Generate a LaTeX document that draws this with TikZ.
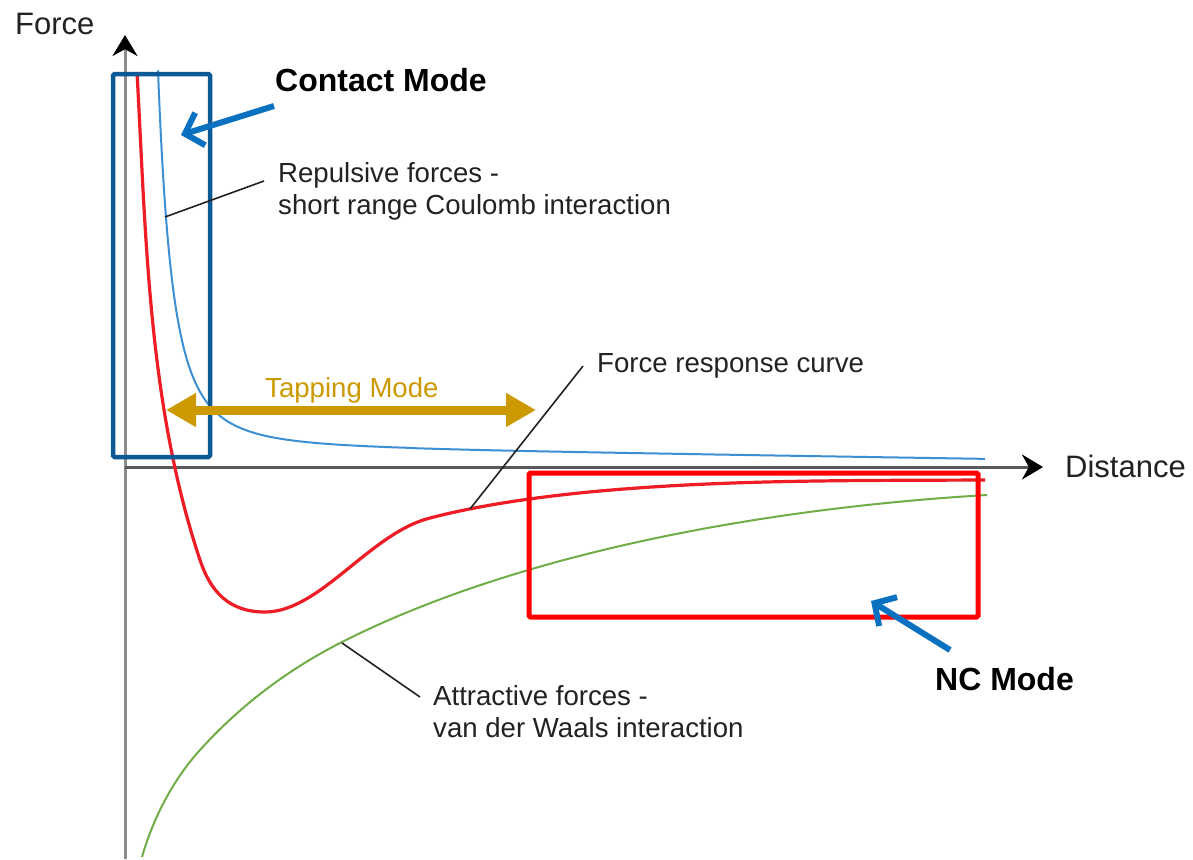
\documentclass[tikz,border=0pt]{standalone}
\usepackage{fontspec}
\setmainfont{Liberation Sans}
\usetikzlibrary{arrows.meta}
\definecolor{boxblue}{HTML}{0B5A96}
\definecolor{arrblue}{HTML}{0A70C0}
\definecolor{curveblue}{HTML}{3C8FD2}
\definecolor{curvered}{HTML}{EE1C24}
\definecolor{curvegreen}{HTML}{70AD47}
\definecolor{gold}{HTML}{CC9900}
\definecolor{txt}{HTML}{222222}
\tikzset{
  lbl/.style={font=\fontsize{27.6}{32}\selectfont, text=txt, inner sep=0pt, anchor=base west},
  axlbl/.style={font=\fontsize{31}{36}\selectfont, text=txt, inner sep=0pt, anchor=base west},
  modelbl/.style={font=\fontsize{32}{36}\selectfont\bfseries, text=black, inner sep=0pt, anchor=base west},
  leader/.style={draw=txt, line width=1.6pt},
  axis/.style={line width=3pt, -{Stealth[length=21pt,width=25pt,black]}},
  modearrow/.style={draw=arrblue, line width=6pt, -{Straight Barb[length=16pt,width=34pt]}},
}
\begin{document}
\begin{tikzpicture}[x=1pt,y=-1pt]
\useasboundingbox (0,0) rectangle (1193,859);
\fill[white] (0,0) rectangle (1193,859);

% axes
\coordinate (O) at (125,467);
\coordinate (ybot) at (125,859);
\coordinate (ytop) at (125,35);
\coordinate (xend) at (1043,467);
\draw[axis, draw=black!45] (ybot) -- (ytop);
\draw[axis, draw=black!65] (O) -- (xend);
\node[axlbl] (force) at (15,35) {Force};
\node[axlbl] (dist) at (1065,477) {Distance};

% attractive (green)
\draw[curvegreen, line width=2pt]
  (142,857) .. controls (153,818.5) and (173,779.6) .. (200,750)
  .. controls (240,705.6) and (288.6,669) .. (342,642)
  .. controls (520,552) and (767,508) .. (987,495);

% repulsive (blue)
\draw[curveblue, line width=2pt]
  plot[domain=158:230, samples=160] (\x, {467 - 8 - 9*(985-\x)/585 - 376*pow(36.4/(\x-121.6),2.5)})
  -- plot[domain=230:985, samples=120] (\x, {467 - 8 - 9*(985-\x)/585 - 376*pow(36.4/(\x-121.6),2.5)});

% force response (red)
\draw[curvered, line width=3.2pt]
  (137,72) .. controls (146,236) and (148,404) .. (200,560)
  .. controls (211,593) and (230,612) .. (265,612)
  .. controls (320,612) and (370,533) .. (430,518)
  .. controls (480,505) and (540,496.4) .. (600,491)
  .. controls (728,479.5) and (857,480.6) .. (985,480);

% boxes
\draw[boxblue, line width=4.5pt, rounded corners=1.5pt] (113,74) rectangle (210,457);
\draw[red, line width=5pt, rounded corners=1.5pt] (529,473) rectangle (978,617);

% tapping mode
\coordinate (tapL) at (166,410);
\coordinate (tapR) at (536,410);
\draw[gold, line width=9pt, {Triangle[length=30pt,width=32pt]}-{Triangle[length=30pt,width=32pt]}] (tapL) -- (tapR);
\node[lbl, text=gold] (tap) at (265,397) {Tapping Mode};

% contact mode
\node[modelbl] (contact) at (275,92) {Contact Mode};
\coordinate (cTail) at (274,106);
\coordinate (cTip) at (181,135);
\draw[modearrow] (cTail) -- (cTip);

% NC mode
\node[modelbl] (nc) at (935,690) {NC Mode};
\coordinate (ncTail) at (950,650);
\coordinate (ncTip) at (871,601);
\draw[modearrow] (ncTail) -- (ncTip);

% labels with leaders
\node[lbl] (rep1) at (278,182) {Repulsive forces -};
\node[lbl] (rep2) at (278,214) {short range Coulomb interaction};
\coordinate (repP) at (165,217);
\coordinate (repQ) at (264,181);
\draw[leader] (repP) -- (repQ);

\node[lbl] (frc) at (597,372) {Force response curve};
\coordinate (frcP) at (470,509);
\coordinate (frcQ) at (583,366);
\draw[leader] (frcP) -- (frcQ);

\node[lbl] (att1) at (433,705) {Attractive forces -};
\node[lbl] (att2) at (433,737) {van der Waals interaction};
\coordinate (attP) at (342,643);
\coordinate (attQ) at (420,697);
\draw[leader] (attP) -- (attQ);
\end{tikzpicture}
\end{document}
